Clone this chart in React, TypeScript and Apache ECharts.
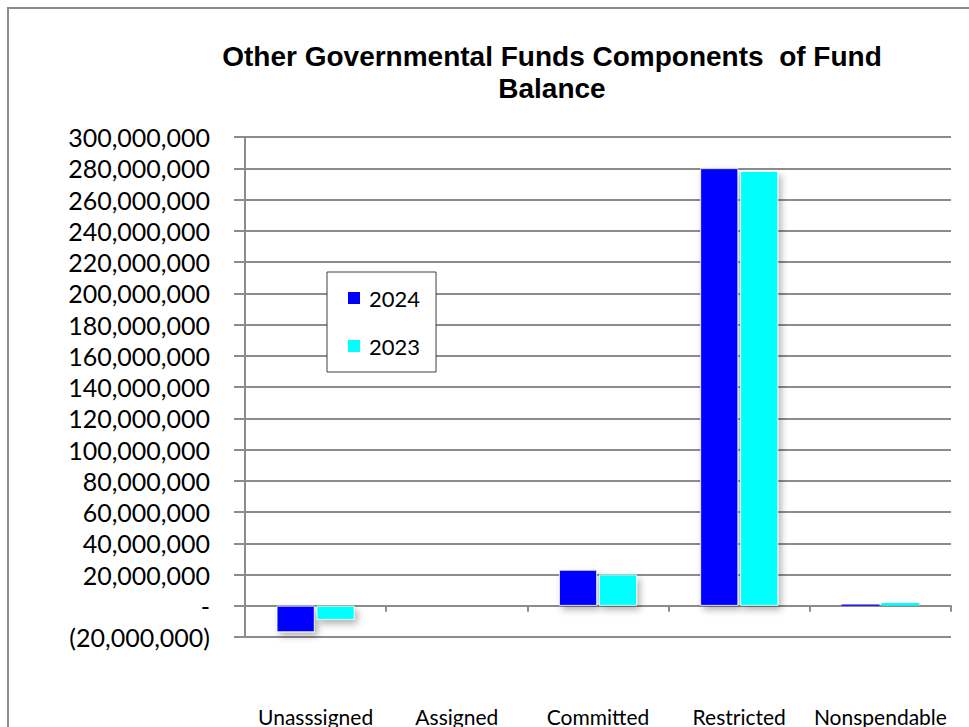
import React, { useEffect, useRef } from "react";
import * as echarts from "echarts";

const categories = ["Unasssigned", "Assigned", "Committed", "Restricted", "Nonspendable"];
const values2024 = [-16900000, 0, 23000000, 280000000, 800000];
const values2023 = [-9000000, 0, 20000000, 278200000, 1800000];
const seriesNames = ["2024", "2023"];
const titleLines = ["Other Governmental Funds Components  of Fund", "Balance"];

const GRAY = "#8c8c8c";

function fmt(v: number): string {
  if (v === 0) return "-";
  const s = Math.abs(v).toLocaleString("en-US");
  return v < 0 ? "(" + s + ")" : s;
}

const shadow = {
  shadowColor: "rgba(0,0,0,0.3)",
  shadowBlur: 7,
  shadowOffsetX: 3,
  shadowOffsetY: 4,
};

function toItems(values: number[]) {
  return values.map((v) =>
    v === 0
      ? { value: v, itemStyle: { borderWidth: 0, opacity: 0 } }
      : Math.abs(v) < 3000000
      ? { value: v, itemStyle: { borderWidth: 0 } }
      : { value: v, itemStyle: shadow }
  );
}

export default function App() {
  const ref = useRef<HTMLDivElement>(null);
  useEffect(() => {
    if (!ref.current) return;
    const chart = echarts.init(ref.current, null, { renderer: "svg" });
    const barStyle = (color: string) => ({
      color,
      borderColor: "#ffffff",
      borderWidth: 0.8,
    });
    chart.setOption({
      animation: false,
      backgroundColor: "#ffffff",
      graphic: [
        {
          type: "line",
          shape: { x1: 8, y1: 7, x2: 8, y2: 727 },
          style: { stroke: GRAY, lineWidth: 2 },
          silent: true,
        },
        {
          type: "line",
          shape: { x1: 7, y1: 8, x2: 969, y2: 8 },
          style: { stroke: GRAY, lineWidth: 2 },
          silent: true,
        },
        {
          type: "text",
          x: 552,
          y: 40,
          style: {
            text: titleLines.join("\n"),
            font: "bold 28px 'Liberation Sans', Arial, sans-serif",
            fill: "#000000",
            textAlign: "center",
            textVerticalAlign: "top",
            lineHeight: 32,
          },
        },
      ],
      legend: {
        data: seriesNames,
        orient: "vertical",
        left: 327,
        top: 272,
        padding: [15, 16, 15, 19],
        itemGap: 26,
        itemWidth: 14,
        itemHeight: 14,
        icon: "rect",
        borderColor: "#404040",
        borderWidth: 1,
        backgroundColor: "#ffffff",
        textStyle: { fontFamily: "Lato", fontSize: 22, color: "#000", padding: [0, 0, 0, 3] },
      },
      grid: { left: 245, right: 18, top: 137, bottom: 61, containLabel: false },
      xAxis: {
        type: "category",
        data: categories,
        position: "bottom",
        axisLine: { show: true, onZero: true, lineStyle: { color: GRAY, width: 2 } },
        axisTick: { show: true, inside: false, length: 6, lineStyle: { color: GRAY, width: 2 } },
        axisLabel: {
          margin: 69,
          fontFamily: "Lato",
          fontSize: 21,
          color: "#000",
          interval: 0,
        },
        splitLine: { show: false },
      },
      yAxis: {
        type: "value",
        min: -20000000,
        max: 300000000,
        interval: 20000000,
        axisLine: { show: true, lineStyle: { color: GRAY, width: 2 } },
        axisTick: { show: true, length: 11, lineStyle: { color: GRAY, width: 2 } },
        splitLine: { show: true, lineStyle: { color: GRAY, width: 2 } },
        axisLabel: {
          margin: 35,
          fontFamily: "Lato",
          fontSize: 25,
          color: "#000",
          formatter: (v: number) => fmt(v),
        },
      },
      series: [
        {
          name: seriesNames[0],
          type: "bar",
          data: toItems(values2024),
          barWidth: 38,
          barGap: "5%",
          itemStyle: barStyle("#0000ff"),
        },
        {
          name: seriesNames[1],
          type: "bar",
          data: toItems(values2023),
          barWidth: 38,
          barGap: "5%",
          itemStyle: barStyle("#00ffff"),
        },
      ],
    });
    return () => chart.dispose();
  }, []);
  return (
    <div
      ref={ref}
      style={{ position: "absolute", left: 0, top: 0, width: 969, height: 727 }}
    />
  );
}
